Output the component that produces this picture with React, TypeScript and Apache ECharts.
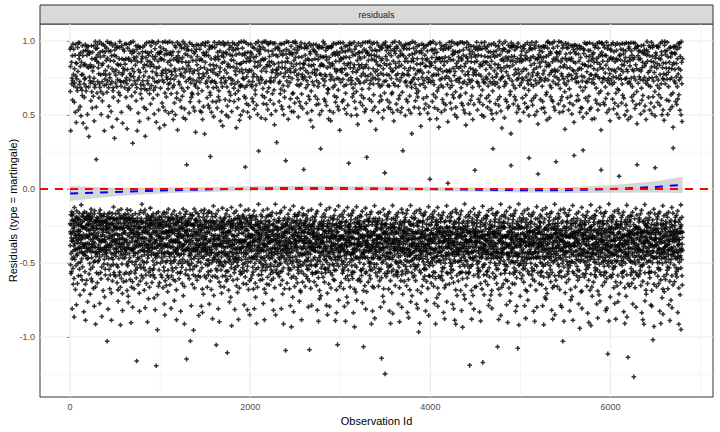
import React, { useEffect, useRef } from "react";
import * as echarts from "echarts";

// Each character is one observation (id = position + 1). Its value was read from the picture
// as a bin (the character) and a position inside the bin (the digit at the same place in
// RESIDUAL_FINE, 0 = top of the bin, 9 = bottom). Bins: [characters, top of first bin, bin height].
const LEVEL_GROUPS: [string, number, number][] = [
  ["abcde", 0.998, 0.04],
  ["fghijk", 0.798, 0.025],
  ["lmnopq", 0.648, 0.025],
  ["rstuvw", 0.498, 0.025],
  ["xyz", 0.348, 0.02],
  ["0123456789", 0.288, 0.025],
  ["!#$%&()*", 0.038, 0.017],
  ["ABC", -0.1, 0.02],
  ["DEFGH", -0.16, 0.02],
  ["IJKLMN", -0.26, 0.03],
  ["OPQRS", -0.44, 0.025],
  ["TUVWX", -0.565, 0.025],
  ["YZ", -0.69, 0.025],
  ["+,-./:;<=>?@[]^_`{|}~'", -0.74, 0.025],
];

const RESIDUAL_COARSE: string[] = [
  "GbMkIeQvDJTNHaKSdLiCFgP-EcJmNhLaRFIWDfKObGMjU/HnBeIiLPFcNJqXFaMgJRdKEs,LCdHhNOjIMkVGEbLfKQaJpTFIIHMc",
  "KcDiSaJMhNZoFeIQbLGjTrKHAdMgJPNkHEUlGaKRfIcDLtNMJbEX.HeOiFmLChMdNSKgIaW:HbLOjFkEJuMVDaIcGPeKNqL+FJbE",
  "MaHPeKjIGwDTLcNgFQbJEhIYGdKSiMnDNeBUJaFOkLcHMVpIEbNRfGhKJlLXHeIQaMgDs-KFCjLPdJiNMaW;FbGOcKo3IHTNJdEk",
  "IbFVaNhKQcEMGeJTdLfHPmMDKiNa,OjFIbCLHcMSgJkEUqNGDaLR/eIhFKnJMbOGdJXlHaIKEfNQcLiDvPMZJaKhFSbGTeLNIMgH",
  "NdGiJObMEkH@LaFcQKhIDU-rHeMjPGbNJoSEKfCaLXIgMTdFJiHbNRaGpLY:EcKOhMeIuDVJGaLPkFjNQmBHIdMSfJcETxKLFbNI",
  "HaKUiLDgOeJMFcMNbQjGsIVEIdLhJRaKCX+nGeNkMPfHDcTLJbKSaIlFEhW<MdGOiNjBLUqKEaHQcJgIMY.tKfLPbNeFDVhIJGdM",
  "LbITeGMjPaKFDdJNhOcHSmEVNaKgFQiLXuMBIeGRbJkDLZ,oHcMPdFjNTIaEKhLOfJbGUpMCFaIS;gENdHWlJcKQiMeDLV-yGNbI",
  "EaMKgJOcNfHXIbLhGQdFTkJMDeNSiKaHPnLUGcJ`jMbIRvEKFdLOhNaJWqGIKeMPcHgDYLs.JaIQfNbFVlMCHiKRdEjLTOmGNAcK",
  "JcGPbMhKUaINFeLRiDgHQoJXMdNOaKjCLS-wIbHfGTcJEpMVKaLQkFeNDhI;GdMPbJiHOr+LEcNSgKaFMWlJHjIRdLeBTnKFMGaE",
  "NbHOiJdKEVaMLfGScMgIPmDTJaFRkNeHQZqLKdMUhIbEO.jGHcLPaJfN|sMDIeKQgFiGY=lJMbNOdHaCLWpKFhJSeIcEVuNLGKbH",
  "GaMQjKcHTbILEdJOgNfFUnMKLhIPaGeDXoJNHbKRiMdCLS,tFcNO/kJaEVpIMeLQfHbGWmKDJgIPcNhFTaLYKdMSjEiBNUqHIJeF",
  "HcLOaJiNFWdMKbGPhIeEQ-lJMfNTcKgHDRpLIaJSjFbMUsNGEdKQiLhCO+nIJeMPaHfGVqKNLbIRgNcDX:mFHkJOdMaETuLKGIcM",
  "KdNQbGhJIUaLFeMOiHcDPmKTJaLS.gIfENoMGbKRjFdHQVlNIcMPeJaBLZrKHgNOkEbGW;pILaJQfMcDTsKFNdIShHeCL`4JMGbH",
  "IaHPcKjMGTeNJbFQhLdEOqIUMfKRaNgDSnH@LeJOiGcFP,mKNbIQkMaHDWlEKdLSfJhGTo=MHaNPcIeBRXpJGiMOjFbLUvKCNJdF",
  "FbLRaMhIKVdJGcNOeHjDQlMTKaIP/fJgELnNHdMSbKiFUpIGJeLQcNaCO-qMIhKRkGdHX.sLMaJPfEbNYoKDLgIOcHeBTwJFKMaN",
  "MdGQaJiLNUcHKbIOfFhEPmJWLeNRjMaDSoGTIcHPgKbCQ,pNJaMOkLdFV2lIHeKSiNcGXqMDNbJQhIaEU:nLFfMPdHjAOrKZJLeG",
  "GaNPhKbIMTdLEcJOiHfDRnM[IeLQjFaKSpNUHbMOgJcCP-lKKdNRkLaGV;mIJfIPbMeEQsHWLaKSiNhFOYqJMcHQdGjBTtLNIKaF",
  "JbHRcMgLKWaNFdIPeGiEOmJTMaKQhNbDSqLVLcJOfHjCU^oINeMSaKdFPrGXIgLQbJkEO+nMKaNPcIeGTlHZHhMRdFiBQ<pJLNbG",
  "KcIOaLhMHVbJGeNQdFjDPnKTLaJS-iMfERlIHbKPgNcCOuMWIdLQeJaFUoGYMhNRbHkEP:mKJaIOcLfGXsNEFdMSjKiATqHLIGdM",
  "NaGPeJiKLTcMHbIRfEgDQpLVJdMOhNaFS,lKGcLQjIbCU5mNKeJPaHdEOWnIMgNSiGcFR.qLIbKQfMaBXoJHLhJOdNeDV/rKGMcE",
  "LdHQbKaMGUiJFeNOcIjEPmLTMaJRhKgDSnIXHcLPfNbCO-pKIeMQdJkFVlGZKaNSiHcEP;oMJgIObLeGWqNFMdKRaHhAT1LJINbK",
  "JaMPcGiLKVeNHbIQgFdDOrJTNfKShMaEPlLUGcJRjIbCQ,nMLdNOeKaHX:mIMiLPbJcFSsGYKaIQfNhEOoJWHeMRdLkBUpKDJLaH",
  "GbKOaNjMIWdLFcJPhHeDRmKTIaLQiMgESqNVKdNOfJbCP+lIHeMSaLcGU.nJJhIRkKdFOtMXLaNPbHgAQ/pKMfJScIeDTyLGKIeN",
  "MaHRcJgKLTbINdGOeFiEQnMUJbKPhLaDSlIWLfMQjNcCO-oKIaJSdHeGVpNYKcLOiMbFR;qJHgNPaIkBXmLEJeKQfMdH^3GNLMcI",
  "KbIPaLhNGVcMHeJQdFjDOsKTLaMRgIbESoNXJcKOiHeCP,mLNfLSaMdGU<pIMbIQhJcFOlKZIaNPkLeAT.qHGdJRfKbEWnMDJKaL",
  "IcGOeMaKJUbNLdHPgFiEQmJVMaKSbNhDRrLTGfJQcIjCO+nKHaLPdMeFXoIYNiKRaJbGS:lMJcIOgLfBVpNEKeMQhHdDT6LJIMdG",
  "NbJQaKgHLWcIFdMOeGjDPnKTIaLRhNbESqJUKcHPiMfCO-lNJeISdLaGV]mMLgKQbJcFOsHXMaNPkIeBR,pLHdJSfMhETuKGNIbJ",
  "HaMPdJiLKVbNGeIOfFcEQlMTKbNRgLaDSoJWLhJQcKeCP.mIMaLSjNdHU;nKIbKOiJaGX+qMNfMPeHcAO0LZJgLRdIbFTpNEKLcH",
  "JdKQbGhNIUaLMeHOcFiDPmKVLaJShIfERnMTIbNPgMcCO,oJKdLQaHeGY/lNHjMRbJkFSrIWNaIOdLcBQ-pKGfKPeNhETsMXJIaM",
  "LbHPaMgIKTdJNcGQeFjEOqLUKaJRbNhDSlMVHeIOiLcCP:nKMdKSaJfGX.mIJbNQgHeFO[oLIcLPkMaAR+pNKhJOdIbEWvHGMNeK",
  "GaNOcJiKMVbLHdIPfFeDQnJTMbLShKaESmNXJcKQjMdCO-pILeNRaHbGU;lKIgJPcLiFOqMZKaMQeNfBT,oJNbHSdIhDV4LGJKaI",
  "KcIQbMaHLWeNJdGOgFiEPrKTNaLRhJbDSmIUMfKPcNjCO.lLIeJSaMdGX<nKLbNQiHcFOpJYHaMPfIkAR+qNGhKOdLeEVtMJILbG",
  "MaJPdKhLGUcIFbNQeHiDOnMVLcKSaIgESlJTHdMOjNbCP,oKJaLRfKeGX]mNNiIQbMcFOqHWKeJPgLaBT-pMIbHSdNhDY2LFJMcK",
  "IbLOaMgKJVdNHeGPcFjEQmLTNaJRiKbDSsMUKfIQhNcCO;nJMdLSbHaGW.pKJgNPeMiFOlIXLaKQcJdAR:oMGbMOfIhETuNHKIdL",
  "NcHQbJaLMTeKGdIOgFiDPqJWKaMRhLcESnNVJbNPjKeCO-lILfMSaIdGU`mKHiKQbJcFOrMZIaLPeNgBX+pJMhJOdHkDT7KL~GaJ",
  "JaKPcMhIGUbNLeHQfFdEOmKTMbNSiJaDRoLXIcLOgKjCP.nMKdJRaNeGV;pINbMQhLcFSlJYHfIPkKaAO/qLGeLSdJiETsMNIKbH",
  "HbMOaKiNLWcJFdGPeIgDQnMTKaJShLbESpNUMfLQcNjCO,mIJeKRdIaGX;lLLhNPbMcFOqKVIaJQgHeBT-oNNcMSkKfDY1JGLMaI",
  "LcJQbNgKIVaMGeHOdFiEPrLTIaKRhMcDSmJWNbLPjIfCO.nKMdJSaKeGU:pNKgIQcLbFOlMXJaNOeHiAR+qIHhKPdMjETvLZNJcL",
  "KaMPcIhLGUdNJbHQeFgDOoKTNcLSiJaERnMVIfKOjMbCP,lJLdNRaHcGX-mKHeJQhLkFO>pMMaIPbKfBS;qNGiLOdNeDTtJYKLbN",
  "MbJOaKgNIWcLHdGPfFiEQmJULaNRbMhDSpKTKcIQjLeCO.nMJeMSdNaGV+lINgKPcIbFOqLXIaLQiJfAT/oKHhMRdKeETs8NJMaK",
  "NaKQdHiLJVbMIeGOcFgDPnLTJbMRhKaESlNWLfJPiIcCO,oKKdNSbMeGU;mJMaLQgHcFOrIZHbIOkJdBX-pNGeKPfLjDTuMYINcJ",
  "JcLPaMhKIUeNGbHQdFiEOqJTMaKSgNcDRmLVIfJOjLbCP.nILeMRaKdGX:pKKhIQcJbFOoMWNaLPeHgAS+lJHdMOiIfETs9LKJbM",
  "KbNOcJgMLWaIHeGPfFjDQnKTIdLRaMhESpJUMaKQiNcCO,lLJbISeLdGV-mNLcMPgHaFO:qKNfJQbIkBX;oMGhKOdLeDTrJZIMaN",
  "LaIQbKhNJVdMFcHOeGiEPmLTNbJRgMaDSlIXKeLPjIcCO.nKMdNSaJfGU<oLJiKQbHcFOpMYIaMOhLeAR+qJHgJPdNkETtKWLNcI",
  "MbKPaIiLGUcNJdHQfFgDOnMTLaNShJbERqK|IcMOiKeCP,mJKaJRdLcGX:lNNhLQbMjFOsIZHeIPgNaBT-oKGfMOcJdDW6LIJKbL",
  "IcJOeNgKMWbLHaGPdFhEQpJTKbLRiIcDSmNUNfMQaJjCO.nKLeKSbHdGV;lMMgIPcLaFOqJXJbNOkKeAR{oIHhLQdMiETrNYKMaJ",
  "NaLQcHiMJVdKGbIOeFgDPmLTMdKShNaESoJWJcNPjLbCO,lIIaMRfKeGU+nLKhJQcIbFOpMZLeNPaHdBX-qKHiMOgJkDTs0NIJcM",
  "KbMPaJhLIUeNHcGQdFiEOnKTLaJRgMbDSqNVIfKOiNcCP]mJMeLSaIdGX:oKNjJQbHaFOlLYJcIPhKeAT/pMGdNOfLgEWuIHKLbN",
  "JaNOcKgMLWbIFdHPeGjDQrJTMbIShLaESmKUKcMQiJfCO,nNLeJRdNbGV;pLIgKPaMcFOoJXNbLOhHeBT+lMHaIQkKdDYv5JMNaK",
  "LcKPbIhNJVaMGeHOdFiEQnLTKaMRgJcDSlIWNbLQjKeCO.mJIdNSaMfGU-qKMhJPcLbFO]oNJaIOeHgAR<pLHfKQdNiETsMZIKcL",
  "MaJQcLiKGUdNHbIOfFgDPmJTNdKShMaERqLVJeLPbIjCO,nKKaNRcJdGX:lMLgMQeHbFOpIYIcJPaNhBS+oLGiKOfMkDTr3JNLbI",
  "KdIPaMhJLWbNGcHQeFiEOnKTMaLRbNgDSoJUIfJOcKjCP.mLLeMSdIaGV;qNNbKQhJcFOlMXJaIPiLeAR-pKHgNOdMfETt7ILJcM",
  "NaMOcKiLJVdIFbGPgHeDQmLTJcKShNaESpMWLdIQjMbCO,nJKfNRaLcGU<oKMeJPbIhFOqNZIaLQgKdBX+lMHcMOeJkDTsIYKNaL",
  "JbLQaNhMIUcKHdGOeFgEPrJTLaMRiKbDSlNVNcJPfIjCO.mKIeKSaMdGX:nLMhLQbJcFOoIWKaNPgHeAT/pJGfIOdLiEV4MNJMbK",
  "IcNPbJgKLWaMGeHQdFiDOnKTMaIRhLcESqJXKbLOjNeCP,mIJdMSaKfGU-lNLgJQcIbFO@pKNaKPeMhBR;oLHiLOdJkDTuMYINcJ",
  "LaKOcMiNJVbIHdGPeFgEQmLTNbJShKaDRpMUIfMQcLjCO.nKKeNRbJdGX+lMMaIPgHcFOqJZJhLQaKeAS:oNGbMOdIfETs2LKJaM",
  "MbIQaLhKGWdNJcHOfFiDPnKTKaNRgMbESlJVLeJPiIcCO,mLNdKSaHeGU=qMIbMQjJcFOoNYHaLPeKgBX-pIGhJOdNkDTr1KLMbJ",
  "NcJPbKgMIUaLGdHQeFjEOmJTJaLShNcDRqKWKfMOaIiCP.nNIeNRbLdGV;lJLhKQcMaFOpIXMbJPfHeAT<oKHgIOdNiEWsLZJKcN",
  "KaMOcJhLNVbIHeGPdFiDQrKTLbIRgNaESmMUMfKQjLcCO,nJJdNSaIeGX:pLNgLPbJcFOlKYIaMQhHdBS+oNGcJOeKkDTu6MILaK",
  "JbNQaKiMLWcIFdHOeGgEPnJTMaKRhLbDSoNVIcJPfMjCO.mKLeIScNaGU-qLKhMQbJdFO^lNNaLPgIeAR;pJHiKOcMfETsJZMNbI",
  "LcIPbNhJKUaMGeHQdFiDOmLTNaJSgKcERpIXJbMOiLeCP,nKKdLRaIfGV:lNMgNQcHbFOqJWIaKPjMdBT+oLHeJOhNkDYr8IKMcL",
  "MaKQcIgLJVdNHbGOeFhEPnKTKdNRiJaDSlMULfIPbMcCO.mJNeJSdKaGX;qLIhMQcLbFOoNZJaLOgHeAT/pKGdKPfIiEW_sMLNaJ",
  "NbLOaJhMKWcIFeHPdGiDQrJTJaMRgKbESmLVKcNQjIeCO,nMIdKSaLfGU'lJLgJPcNbFOpMXMaIQhHdBS-oKHbLOeJkDTt4NIJaM",
  "KaJPcMiNLUbIHdGQeFgEOnKTMbLShNcDRqJWIfKOaJjCP.mLJeNRbIdGV:lKNhMQcLaFO;pJLbIPgKeAT+oMGcJOdHiEXsNYKLbH",
  "IcMQaKhJNVdLGbHOfFiDPmJTLaNRgMcESpKUJeIPbLjCO,nNMdKSaJeGX-qIKgLQcNbFO@lMNaJPhIdBW<oKHfMOeKkDTr5JLIcK",
  "JbKOcLgMIWaNHeGPdFiEQnLTNaIRhJbDSlMVKcMQjNeCO.oJLfJSaKdGU;mLMiNPbIcFOqKZIaLQeHgAX/pNGdKOhMfETsJYNMaI",
  "LaNPbKiJMUcIFdHQeGgDOmKTMbJShLaERqNXIcKOfMjCP,nLKeLRdIbGV:pJNhIQaJcFO+lMJbMPgHeBT-oKHcLOdNkDWu0IKJbN",
  "MdJQaNhKLVbIGeHOcFiEPnJTKaMRgLdDSoIUNbIPjKcCO.mMJfNSaLeGX;lKLhKQbMaFOpJYIcJOeHgAR=qNHaMPdIiETsLWKNcJ",
];

const RESIDUAL_FINE: string[] = [
  "7305928164281937504659270418360486213957371059842692648307151583706249604721935883926051742758149063",
  "4916027385063281947581743560925281960734904371825637590246186128473905189563204774601953822037584961",
  "5820413697937106258426481970350153864729679523014834079568128261739450193458027640896215737512048369",
  "3167598402850423697162918450374738012659095267138424803957169613708245582716409313459872607069253418",
  "8246051937159038726447839205166025174893931846207506712593485439806712286704315971045389263952716480",
  "6490273158381564092702791853649536712048214839657078035246914962031875135786940286214570395084902713",
  "2673819504704825619391520478364386590721172593064859106832470439716582826147539035972041866814392057",
  "9081534762432796081517642083597590341628523861709409467523813812097456645918320721038657498675420193",
  "1538706249629415803738075921648052463791467183095291250476837360914528074328691559163728402489051376",
  "5702948316086173549274350169282198647053892630417530475918626583120794421985360796504782311374269580",
  "3924618057815039276426759408139407186235031875469265492031781782635940403687152972910543865863427091",
  "7146083952239857140656104298370857936214427381569090812475633695710428842056317967341980251509362847",
  "0485719326523704689189013657423769842105614259803713580792649620431578287460391540961572837513928640",
  "6829305417107486235943569170289513048672276039184584975261300231674958564821039731827596047905483126",
  "2361547980972501846301489632576839274105350718692472946350185016392847145380769286729415304980156273",
  "8507293614364810597262194870351072358496793564012843819627502864079351915072648304268315975793418062",
  "4173860529092675318493852160475640937812185247936060371852948219604735376492150875013489622498573016",
  "1952637048630419872527185403698469025173503176498236258914077840316259019745283695862037144273968501",
  "9416285730587390246132607481957095164382062483951721586079434981273056673259041813074866298549031276",
  "6035729841248106539778093425160157896324469215307893264701853574918620176820345952406879318913524067",
  "3270814695765938102414260975835983246710801457396205471283966391805247280576413997384516024162930875",
  "5849163270019354782686752014392316785904740293856139580647121287459630953067128440618235976724390158",
  "0617385942438592701629548136078127609453356904172868302751949742168305509348267114789562307206314589",
  "7982540163154609372862307594814071328695981367520426594803170324916578876510394231972480565408762319",
  "2354097618871926430540936187526827530149146089527351827436907935062481064138952795081274363276451809",
  "4726813905905834267113875902463654017829620947315809736584128541290367281673509451908467237432509186",
  "8190456237346271905857290831641803265947735492861040163928752698751403623708451908756139429541270836",
  "1563928704620718549398406732155391840627208571634987240531963159267480746839105246329057810917548263",
  "6938071452037152689436159420789482307516475068392112964753085827130649204985617381736940253504218697",
  "3084715926751286034902684371954937102658862159407353492768101705938264689304152724567198309170623485",
  "5216890437184027396573915680242658039741097431258664837251099032647815356718049281294563704705391268",
  "9751302648492671835020358471697180459236356208179408179346256349572081127860345954903168278604127593",
  "0342957186607812453985136902743246875901978501346229615480374127396850759380261418304657925619237408",
  "7869134025241509367846972083510524761893513698274082504173693781625094904287351663750491281908356247",
  "4507682319863925174012860749356973518402241893705670952631840853149627531479620839625804719721403865",
  "2193546870574086921368213075949358142067160723594842865917308539064172046173892570248951363875610429",
  "8632079154025739481639745816201496203785681974503295431802672708653941416592730853904186727081236495",
  "1478260593792581340650629413788317456209029157386437469081526150382947968371402528450967314509627318",
  "6025893471359147608298472051632730619854736415029814829376055918264730027654831946530719828109342657",
  "3951407286918632574004378629155602194378472853906160147835921873956204724561083985690231472390875614",
  "9374610528486029713572195480630583762941610583927429374058168461027359371895460210462837955692371480",
  "0816253974650293418741583706928967401235324957681076813204595094682731237501984698307451621427968503",
  "5263789140179804265336409152877412638095982705431603591867244106273958853140726969843520712075619834",
  "7540831962392671540880712643951695380247538492706148120567390267493815695317842021385096749406742153",
  "2089176354841359270609624578314375806129175603924892406185736538724091312796048578013459265694281037",
  "4635920817027168349565930417283846217950801976453215278390647380452619946257130852180369470753194286",
  "6197542083584230716923069587149158724630047318629536850914271942637805702481593686593402714310679528",
  "1720368495935614827048196720536203495817264810739450719246388435260179096278354135874169027194053862",
  "8462915730209378451676815302940537291648492506387163187524099204637185517684093217402983563859107624",
  "3518047269764095238119348657025289106473607234891584915730262367910854485326719001265847399705431682",
  "0954382716428607159353276190488701354629216389740578490263513615748290109843256764729531802530186947",
  "7281693054153784096290462157383652978410581904362703756821944128539076876120534923946178056903458172",
  "4836270519609531842727184659309461027385137059264852847310967953046182062718945331498507268502364917",
  "9173054862342896170506852371947219843056405761823919364705286842159307259038467183647259105701692483",
  "2645918037805947216339176052481482356709723018965465187423900374961825982605341741538270966097341582",
  "5308127496076239485182435196704675081932958173602420941653781739248506346290718578156302490928453761",
  "1794630258632185790440589723612936104875061724859384735920165280317649715984603296024751833845061927",
  "8027456931258913074663720481955914763208340689157276513204899138572064076524981342936057181580937426",
  "3461892705970623514818257046397048512963629304781501378692542584136970593147068287160235494059386127",
  "6852310974417309658295074682130281957346573682419039401756288615203749132758946020486317957694052831",
  "0739564182521874036936948210578452306791108563792493612845074720915836650347821978491526032176093548",
  "9586201437104385792676213940583875016249421795386065384207910194786352836251907459703482162408167935",
  "4207938516783156204904561278936190485372297834165085240961373649752081108326479593158074625762910384",
  "2815473690649012835758739604219326745018706128953441895037621537046829805463791206428195733971582046",
  "7362085149305791468281306725944685231907052947681327143980566893520471924610735815780439265401769283",
  "1948326057862540719325791836400314695872680754231951360897249462713508378025419642519608377093815462",
  "5071694238239681570468140573291547239680392846017576501239480283976514471953806284657012939132486507",
  "3629857014940736182512534897607860914352219467503860385219475471093286091524867373821064594586732190",
];

// loess smooth and its confidence band
const SMOOTH_X = [1, 500, 1000, 1500, 2000, 2500, 3000, 3500, 4000, 4500, 5000, 5500, 6000, 6500, 6800];
const SMOOTH_Y = [-0.03, -0.02, -0.01, -0.003, 0.003, 0.006, 0.005, 0.003, 0.0, -0.004, -0.008, -0.008, 0.0, 0.014, 0.028];
const SMOOTH_LO = [-0.08, -0.048, -0.03, -0.02, -0.012, -0.008, -0.009, -0.011, -0.014, -0.018, -0.023, -0.026, -0.025, -0.024, -0.027];
const SMOOTH_HI = [0.02, 0.008, 0.01, 0.014, 0.018, 0.02, 0.019, 0.017, 0.014, 0.01, 0.007, 0.01, 0.025, 0.052, 0.083];

const X_TICKS = [0, 2000, 4000, 6000];
const X_MINOR = [1000, 3000, 5000, 7000];
const Y_TICKS = [-1, -0.5, 0, 0.5, 1];
const Y_MINOR = [-1.25, -0.75, -0.25, 0.25, 0.75];
const REFERENCE_Y = 0;

const X_MIN = -333;
const X_MAX = 7137;
const Y_MIN = -1.405;
const Y_MAX = 1.115;

const FONT = "'Liberation Sans', Arial, Helvetica, sans-serif";

function decodeResiduals(): number[][] {
  const bins: Record<string, [number, number]> = {};
  LEVEL_GROUPS.forEach(([chars, top, height]) => {
    for (let k = 0; k < chars.length; k++) bins[chars[k]] = [top - k * height, height];
  });
  const coarse = RESIDUAL_COARSE.join("");
  const fine = RESIDUAL_FINE.join("");
  const out: number[][] = [];
  for (let i = 0; i < coarse.length; i++) {
    const bin = bins[coarse[i]];
    if (!bin) continue;
    const d = i < fine.length ? Number(fine[i]) : 5;
    out.push([i + 1, +(bin[0] - ((d + 0.5) / 10) * bin[1]).toFixed(4)]);
  }
  return out;
}

export default function App() {
  const ref = useRef<HTMLDivElement>(null);

  useEffect(() => {
    if (!ref.current) return;
    const chart = echarts.init(ref.current, null, { renderer: "svg" });
    const points = decodeResiduals();

    const gridItems: number[][] = [
      ...X_MINOR.map((v) => [0, v, 0]),
      ...Y_MINOR.map((v) => [1, v, 0]),
      ...X_TICKS.map((v) => [0, v, 1]),
      ...Y_TICKS.map((v) => [1, v, 1]),
    ];

    const option: any = {
      animation: false,
      backgroundColor: "#ffffff",
      textStyle: { fontFamily: FONT },
      grid: {
        left: 40,
        right: 7,
        top: 24,
        bottom: 35,
        outerBoundsMode: "none",
        containLabel: false,
        show: true,
        backgroundColor: "#ffffff",
        borderColor: "#333333",
        borderWidth: 1,
      },
      xAxis: {
        type: "value",
        min: X_MIN,
        max: X_MAX,
        name: "Observation Id",
        nameLocation: "middle",
        nameGap: 18,
        nameMoveOverlap: false,
        nameTextStyle: { color: "#000000", fontSize: 11, fontFamily: FONT },
        axisLine: { show: false },
        axisTick: { show: true, customValues: X_TICKS, length: 3, lineStyle: { color: "#333333" } },
        axisLabel: {
          customValues: X_TICKS,
          color: "#4D4D4D",
          fontSize: 9,
          margin: 5,
          fontFamily: FONT,
          formatter: (v: number) => String(v),
        },
        splitLine: { show: false },
      },
      yAxis: {
        type: "value",
        min: Y_MIN,
        max: Y_MAX,
        name: "Residuals (type = martingale)",
        nameLocation: "middle",
        nameGap: 22,
        nameRotate: 90,
        nameMoveOverlap: false,
        nameTextStyle: { color: "#000000", fontSize: 11, fontFamily: FONT },
        axisLine: { show: false },
        axisTick: { show: true, customValues: Y_TICKS, length: 3, lineStyle: { color: "#333333" } },
        axisLabel: {
          customValues: Y_TICKS,
          color: "#4D4D4D",
          fontSize: 9,
          margin: 5,
          fontFamily: FONT,
          formatter: (v: number) => v.toFixed(1),
        },
        splitLine: { show: false },
      },
      graphic: [
        {
          type: "rect",
          shape: { x: 40, y: 5, width: 673, height: 19 },
          style: { fill: "#D9D9D9", stroke: "#333333", lineWidth: 1 },
          silent: true,
        },
        {
          type: "text",
          x: 376.5,
          y: 14.5,
          style: {
            text: "residuals",
            fill: "#1A1A1A",
            font: `9px ${FONT}`,
            align: "center",
            verticalAlign: "middle",
          },
          silent: true,
        },
      ],
      series: [
        {
          type: "custom",
          name: "gridlines",
          silent: true,
          z: 1,
          data: gridItems,
          renderItem: (params: any, api: any) => {
            const cs = params.coordSys;
            const dir = api.value(0);
            const v = api.value(1);
            const major = api.value(2);
            let shape;
            if (dir === 0) {
              const p = api.coord([v, 0]);
              shape = { x1: p[0], y1: cs.y, x2: p[0], y2: cs.y + cs.height };
            } else {
              const p = api.coord([0, v]);
              shape = { x1: cs.x, y1: p[1], x2: cs.x + cs.width, y2: p[1] };
            }
            return {
              type: "line",
              shape,
              style: { stroke: "#EBEBEB", lineWidth: major ? 1.1 : 0.55 },
            };
          },
        },
        {
          type: "scatter",
          name: "residuals",
          data: points,
          symbol: "path://M1 0H2V1H3V2H2V3H1V2H0V1H1Z",
          symbolSize: 4.6,
          itemStyle: { color: "#000000" },
          progressive: 0,
          large: false,
          silent: true,
          z: 2,
        },
        {
          type: "custom",
          name: "band",
          silent: true,
          z: 3,
          data: [[0, 0]],
          renderItem: (_params: any, api: any) => {
            const pts: number[][] = [];
            SMOOTH_X.forEach((x, i) => pts.push(api.coord([x, SMOOTH_HI[i]])));
            for (let i = SMOOTH_X.length - 1; i >= 0; i--) pts.push(api.coord([SMOOTH_X[i], SMOOTH_LO[i]]));
            return { type: "polygon", shape: { points: pts }, style: { fill: "rgba(153,153,153,0.4)" } };
          },
        },
        {
          type: "line",
          name: "smooth",
          data: SMOOTH_X.map((x, i) => [x, SMOOTH_Y[i]]),
          showSymbol: false,
          symbol: "none",
          lineStyle: { color: "#0000FF", width: 2, type: [8, 7] },
          silent: true,
          z: 4,
        },
        {
          type: "line",
          name: "zero",
          data: [],
          silent: true,
          z: 5,
          markLine: {
            silent: true,
            symbol: ["none", "none"],
            label: { show: false },
            lineStyle: { color: "#FF0000", width: 2, type: [8, 7] },
            data: [{ yAxis: REFERENCE_Y }],
          },
        },
      ],
    };

    chart.setOption(option);
    return () => chart.dispose();
  }, []);

  return (
    <div
      ref={ref}
      style={{ position: "fixed", left: 0, top: 0, width: 720, height: 432, background: "#ffffff" }}
    />
  );
}
